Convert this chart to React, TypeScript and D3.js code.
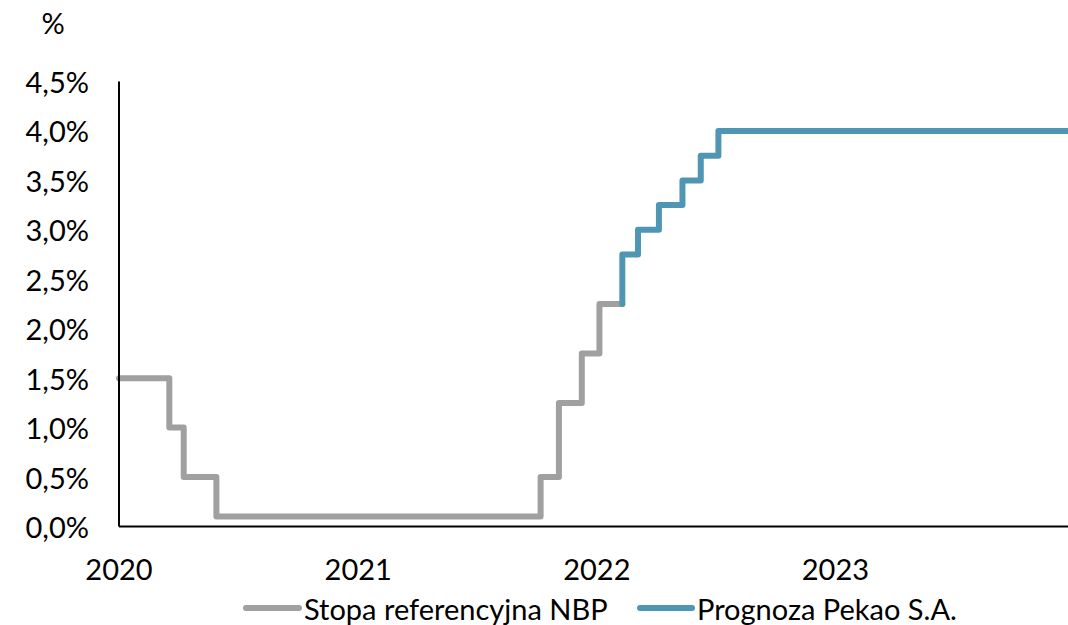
import React from "react";
import * as d3 from "d3";

const nbpDates = ["2020-01-01", "2020-03-18", "2020-04-09", "2020-05-29", "2021-10-07", "2021-11-04", "2021-12-09", "2022-01-05", "2022-02-09"];
const nbpValues = [1.5, 1.0, 0.5, 0.1, 0.5, 1.25, 1.75, 2.25, 2.25];
const pekaoDates = ["2022-02-09", "2022-02-09", "2022-03-05", "2022-04-06", "2022-05-12", "2022-06-09", "2022-07-06", "2023-12-31"];
const pekaoValues = [2.25, 2.75, 3.0, 3.25, 3.5, 3.75, 4.0, 4.0];
const yTicks = [0, 0.5, 1, 1.5, 2, 2.5, 3, 3.5, 4, 4.5];
const xTickYears = ["2020", "2021", "2022", "2023"];
const seriesNames = ["Stopa referencyjna NBP", "Prognoza Pekao S.A."];
const colors = ["#A0A0A0", "#4F96B4"];

const W = 1068, H = 625;
const FONT = "Lato, 'Open Sans', sans-serif";
const FS = 29;

export default function App() {
  const parse = d3.timeParse("%Y-%m-%d");
  const x = d3.scaleTime().domain([parse("2020-01-01")!, parse("2024-01-01")!]).range([119, 1074]);
  const y = d3.scaleLinear().domain([0, 4.5]).range([526.5, 81.5]);
  const line = d3.line<[Date, number]>().x(d => x(d[0])).y(d => y(d[1])).curve(d3.curveStepAfter);
  const nbp: [Date, number][] = nbpDates.map((d, i) => [parse(d)!, nbpValues[i]]);
  const pek: [Date, number][] = pekaoDates.map((d, i) => [parse(d)!, pekaoValues[i]]);
  const fmt = (v: number) => v.toFixed(1).replace(".", ",") + "%";
  return (
    <svg width={W} height={H} style={{ position: "absolute", left: 0, top: 0, background: "#fff" }} fontFamily={FONT}>
      <text x={53} y={22} fontSize={FS} textAnchor="middle" dominantBaseline="central" fill="#000">%</text>
      {yTicks.map(t => (
        <text key={t} x={89} y={y(t)} fontSize={FS} textAnchor="end" dominantBaseline="central" fill="#000">{fmt(t)}</text>
      ))}
      {xTickYears.map(yr => (
        <text key={yr} x={x(parse(yr + "-01-01")!)} y={568} fontSize={FS} textAnchor="middle" dominantBaseline="central" fill="#000">{yr}</text>
      ))}
      <path d={line(nbp)!} fill="none" stroke={colors[0]} strokeWidth={6} strokeLinejoin="round" strokeLinecap="round" />
      <path d={line(pek)!} fill="none" stroke={colors[1]} strokeWidth={6} strokeLinejoin="round" strokeLinecap="round" />
      <line x1={119} x2={119} y1={81.5} y2={526.5} stroke="#000" strokeWidth={2} />
      <line x1={119} x2={W} y1={526.5} y2={526.5} stroke="#000" strokeWidth={2} />
      <g>
        <line x1={246} x2={299} y1={608} y2={608} stroke={colors[0]} strokeWidth={6} strokeLinecap="round" />
        <text x={304} y={608} fontSize={FS} dominantBaseline="central" fill="#000">{seriesNames[0]}</text>
        <line x1={640} x2={692} y1={608} y2={608} stroke={colors[1]} strokeWidth={6} strokeLinecap="round" />
        <text x={697} y={608} fontSize={FS} dominantBaseline="central" fill="#000">{seriesNames[1]}</text>
      </g>
    </svg>
  );
}
